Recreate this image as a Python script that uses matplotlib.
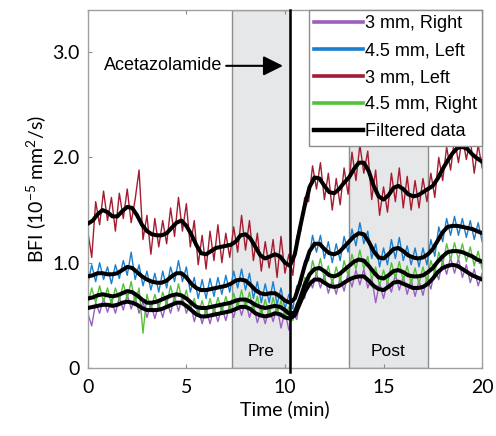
import numpy as np
import matplotlib.pyplot as plt
from matplotlib.patches import Rectangle

plt.rcParams['font.family'] = ['Lato', 'DejaVu Sans']
plt.rcParams['mathtext.fontset'] = 'custom'
plt.rcParams['mathtext.rm'] = 'Lato'

# raw BFI samples every 0.2 min
t_raw = np.arange(0, 20.01, 0.2)
right_3mm = [0.52, 0.40, 0.62, 0.52, 0.66, 0.53, 0.65, 0.52, 0.67, 0.55,
             0.70, 0.56, 0.68, 0.52, 0.63, 0.48, 0.61, 0.47, 0.61, 0.48,
             0.64, 0.52, 0.68, 0.54, 0.68, 0.52, 0.62, 0.44, 0.57, 0.42,
             0.56, 0.42, 0.57, 0.44, 0.58, 0.45, 0.60, 0.48, 0.63, 0.50,
             0.64, 0.48, 0.60, 0.43, 0.56, 0.42, 0.57, 0.44, 0.58, 0.38,
             0.54, 0.36, 0.52, 0.46, 0.70, 0.66, 0.86, 0.76, 0.90, 0.76,
             0.88, 0.71, 0.84, 0.70, 0.86, 0.73, 0.90, 0.77, 0.93, 0.79,
             0.94, 0.76, 0.86, 0.62, 0.81, 0.66, 0.82, 0.72, 0.89, 0.74,
             0.87, 0.70, 0.84, 0.68, 0.83, 0.69, 0.86, 0.75, 0.94, 0.84,
             1.02, 0.89, 1.05, 0.90, 1.04, 0.86, 0.98, 0.81, 0.94, 0.78,
             0.90]
left_45mm = [0.80, 0.98, 0.82, 1.00, 0.84, 0.96, 0.80, 0.98, 0.85, 1.02,
             0.88, 1.10, 0.84, 0.98, 0.78, 0.92, 0.74, 0.90, 0.72, 0.92,
             0.76, 0.96, 0.82, 1.02, 0.82, 0.96, 0.72, 0.86, 0.66, 0.84,
             0.66, 0.85, 0.68, 0.86, 0.70, 0.88, 0.72, 0.92, 0.76, 0.94,
             0.74, 0.90, 0.66, 0.82, 0.62, 0.80, 0.62, 0.82, 0.60, 0.76,
             0.56, 0.70, 0.56, 0.78, 0.78, 1.02, 1.02, 1.26, 1.10, 1.26,
             1.04, 1.20, 1.00, 1.18, 1.02, 1.25, 1.10, 1.32, 1.16, 1.38,
             1.18, 1.30, 1.04, 1.18, 0.96, 1.14, 0.98, 1.22, 1.04, 1.24,
             1.02, 1.16, 0.98, 1.14, 0.96, 1.14, 0.98, 1.22, 1.06, 1.34,
             1.20, 1.42, 1.26, 1.44, 1.26, 1.42, 1.24, 1.40, 1.22, 1.38,
             1.20]
left_3mm = [1.30, 1.05, 1.58, 1.36, 1.68, 1.40, 1.62, 1.30, 1.66, 1.42,
            1.70, 1.38, 1.60, 1.88, 1.22, 1.45, 1.08, 1.42, 1.15, 1.40,
            1.18, 1.52, 1.25, 1.62, 1.30, 1.56, 1.15, 1.40, 0.98, 1.26,
            0.94, 1.30, 1.02, 1.36, 1.00, 1.28, 1.05, 1.34, 1.10, 1.45,
            1.12, 1.40, 1.02, 1.28, 0.92, 1.20, 0.95, 1.22, 0.86, 1.25,
            0.90, 1.08, 0.88, 1.25, 1.30, 1.62, 1.58, 1.92, 1.70, 1.95,
            1.60, 1.85, 1.50, 1.80, 1.55, 1.90, 1.65, 2.05, 1.78, 2.12,
            1.85, 2.06, 1.60, 1.88, 1.45, 1.72, 1.48, 1.85, 1.58, 1.90,
            1.52, 1.82, 1.50, 1.78, 1.52, 1.80, 1.58, 1.85, 1.62, 2.00,
            1.78, 2.10, 1.88, 2.18, 1.95, 2.20, 1.98, 2.18, 1.85, 2.12,
            1.90]
right_45mm = [0.60, 0.76, 0.62, 0.78, 0.63, 0.76, 0.60, 0.76, 0.64, 0.80,
              0.66, 0.82, 0.62, 0.76, 0.33, 0.70, 0.55, 0.70, 0.56, 0.72,
              0.60, 0.78, 0.62, 0.80, 0.62, 0.74, 0.56, 0.66, 0.50, 0.64,
              0.50, 0.66, 0.52, 0.67, 0.53, 0.68, 0.55, 0.71, 0.57, 0.74,
              0.57, 0.72, 0.53, 0.68, 0.50, 0.65, 0.50, 0.67, 0.51, 0.64,
              0.48, 0.58, 0.45, 0.62, 0.62, 0.86, 0.80, 1.02, 0.88, 1.04,
              0.84, 0.97, 0.80, 0.96, 0.82, 1.02, 0.88, 1.08, 0.94, 1.12,
              0.94, 1.06, 0.84, 0.96, 0.78, 0.93, 0.80, 1.00, 0.85, 1.01,
              0.83, 0.97, 0.80, 0.95, 0.80, 0.96, 0.82, 1.02, 0.90, 1.10,
              0.98, 1.18, 1.03, 1.19, 1.03, 1.18, 1.01, 1.15, 0.97, 1.11,
              0.94]

# low-pass filtered traces every 0.25 min
t_filt = np.arange(0, 20.01, 0.25)
filt_right_3mm = [0.57, 0.58, 0.59, 0.60, 0.60, 0.59, 0.60, 0.62, 0.63, 0.62,
                  0.60, 0.57, 0.55, 0.55, 0.55, 0.56, 0.58, 0.60, 0.62, 0.62,
                  0.59, 0.55, 0.51, 0.49, 0.49, 0.50, 0.51, 0.52, 0.53, 0.54,
                  0.56, 0.58, 0.58, 0.56, 0.52, 0.50, 0.49, 0.50, 0.52, 0.51,
                  0.48, 0.47, 0.50, 0.61, 0.72, 0.80, 0.84, 0.84, 0.81, 0.78,
                  0.77, 0.78, 0.81, 0.84, 0.86, 0.87, 0.87, 0.83, 0.78, 0.75,
                  0.74, 0.77, 0.81, 0.82, 0.80, 0.78, 0.76, 0.76, 0.77, 0.80,
                  0.85, 0.91, 0.95, 0.97, 0.98, 0.97, 0.94, 0.91, 0.88, 0.86,
                  0.84]
filt_left_45mm = [0.87, 0.88, 0.90, 0.90, 0.89, 0.89, 0.90, 0.93, 0.96, 0.95,
                  0.91, 0.87, 0.84, 0.82, 0.81, 0.81, 0.83, 0.87, 0.90, 0.90,
                  0.86, 0.80, 0.76, 0.74, 0.74, 0.75, 0.76, 0.77, 0.78, 0.80,
                  0.83, 0.84, 0.83, 0.79, 0.74, 0.71, 0.70, 0.71, 0.71, 0.68,
                  0.64, 0.62, 0.66, 0.80, 0.97, 1.11, 1.18, 1.18, 1.13, 1.09,
                  1.08, 1.10, 1.15, 1.20, 1.25, 1.28, 1.27, 1.20, 1.11, 1.05,
                  1.04, 1.08, 1.13, 1.14, 1.11, 1.07, 1.05, 1.04, 1.05, 1.08,
                  1.13, 1.21, 1.29, 1.34, 1.35, 1.35, 1.34, 1.33, 1.32, 1.30,
                  1.28]
filt_left_3mm = [1.37, 1.40, 1.46, 1.50, 1.48, 1.44, 1.44, 1.49, 1.53, 1.52,
                 1.45, 1.36, 1.30, 1.27, 1.26, 1.26, 1.28, 1.33, 1.38, 1.40,
                 1.35, 1.27, 1.17, 1.09, 1.08, 1.11, 1.14, 1.15, 1.16, 1.17,
                 1.20, 1.26, 1.27, 1.23, 1.15, 1.07, 1.04, 1.06, 1.08, 1.06,
                 1.00, 0.97, 1.08, 1.32, 1.54, 1.72, 1.81, 1.80, 1.73, 1.67,
                 1.66, 1.70, 1.76, 1.81, 1.89, 1.95, 1.95, 1.87, 1.73, 1.63,
                 1.60, 1.64, 1.71, 1.73, 1.70, 1.65, 1.63, 1.64, 1.67, 1.70,
                 1.73, 1.80, 1.89, 1.97, 2.04, 2.09, 2.10, 2.08, 2.03, 1.99,
                 1.96]
filt_right_45mm = [0.66, 0.67, 0.69, 0.70, 0.69, 0.68, 0.69, 0.71, 0.73, 0.72,
                   0.69, 0.65, 0.62, 0.62, 0.63, 0.65, 0.67, 0.69, 0.70, 0.69,
                   0.66, 0.62, 0.58, 0.57, 0.57, 0.58, 0.59, 0.60, 0.61, 0.62,
                   0.64, 0.65, 0.65, 0.63, 0.60, 0.58, 0.57, 0.58, 0.59, 0.58,
                   0.55, 0.51, 0.53, 0.65, 0.79, 0.89, 0.94, 0.95, 0.92, 0.88,
                   0.87, 0.89, 0.93, 0.97, 1.01, 1.03, 1.02, 0.97, 0.91, 0.86,
                   0.85, 0.88, 0.92, 0.93, 0.91, 0.88, 0.87, 0.87, 0.88, 0.91,
                   0.95, 1.01, 1.06, 1.10, 1.11, 1.11, 1.10, 1.08, 1.06, 1.03,
                   1.01]

series = [('3 mm, Right', right_3mm, filt_right_3mm, '#9b5fc0'),
          ('4.5 mm, Left', left_45mm, filt_left_45mm, '#1a7fcf'),
          ('3 mm, Left', left_3mm, filt_left_3mm, '#a51c30'),
          ('4.5 mm, Right', right_45mm, filt_right_45mm, '#55c03a')]

pre_window = (7.3, 10.25)
post_window = (13.25, 17.25)
injection_time = 10.25

fig = plt.figure(figsize=(4.96, 4.36), dpi=100)
ax = fig.add_axes([0.177, 0.156, 0.795, 0.821])

# baseline and post-injection windows
for (t0, t1), name in [(pre_window, 'Pre'), (post_window, 'Post')]:
    ax.add_patch(Rectangle((t0, 0), t1 - t0, 3.4, facecolor='#e6e7e8',
                           edgecolor='#8c8c8c', lw=1.0, zorder=0))
    ax.text((t0 + t1) / 2, 0.155, name, ha='center', va='center',
            fontsize=12.5, family='Liberation Sans')

handles = []
for label, raw, filt, color in series:
    ax.plot(t_raw, raw, color=color, lw=1.0, zorder=2)
    handles.append(plt.Line2D([], [], color=color, lw=2.6, label=label))
for label, raw, filt, color in series:
    ax.plot(t_filt, filt, color='black', lw=2.9, zorder=3,
            solid_capstyle='round')
handles.append(plt.Line2D([], [], color='black', lw=3.2, label='Filtered data'))

# injection marker, drawn slightly past the bottom spine
ax.plot([injection_time, injection_time], [-0.04, 3.4], color='black',
        lw=1.8, zorder=4, clip_on=False)

ax.annotate('Acetazolamide', xy=(9.9, 2.87), xytext=(0.8, 2.87),
            fontsize=13, family='Liberation Sans', va='center', ha='left',
            arrowprops=dict(arrowstyle='-|>', color='black', lw=1.5,
                            mutation_scale=30, shrinkA=1, shrinkB=0))

ax.set_xlim(0, 20)
ax.set_ylim(0, 3.4)
ax.set_xticks([0, 5, 10, 15, 20])
ax.set_yticks([0, 1, 2, 3])
ax.set_yticklabels(['0', '1.0', '2.0', '3.0'])
ax.tick_params(direction='in', length=3, color='#8c8c8c', labelsize=14,
               top=True, right=True)
ax.tick_params(axis='x', pad=8)
ax.tick_params(axis='y', pad=6)
for sp in ax.spines.values():
    sp.set_color('#a0a0a0')
    sp.set_linewidth(1.0)

ax.set_xlabel('Time (min)', fontsize=14, labelpad=3)
ax.set_ylabel('BFI (10$^{\\mathregular{-5}}$ mm$^{\\mathregular{2}}$/s)',
              fontsize=14, labelpad=2)

leg = ax.legend(handles=handles, loc='upper right', borderaxespad=0,
                fancybox=False, framealpha=1, edgecolor='#8c8c8c',
                prop={'family': 'Liberation Sans', 'size': 13},
                handlelength=2.7, handletextpad=0.1, labelspacing=0.55,
                borderpad=0.3)
leg.set_zorder(5)

fig.savefig('out.png', dpi=100)
